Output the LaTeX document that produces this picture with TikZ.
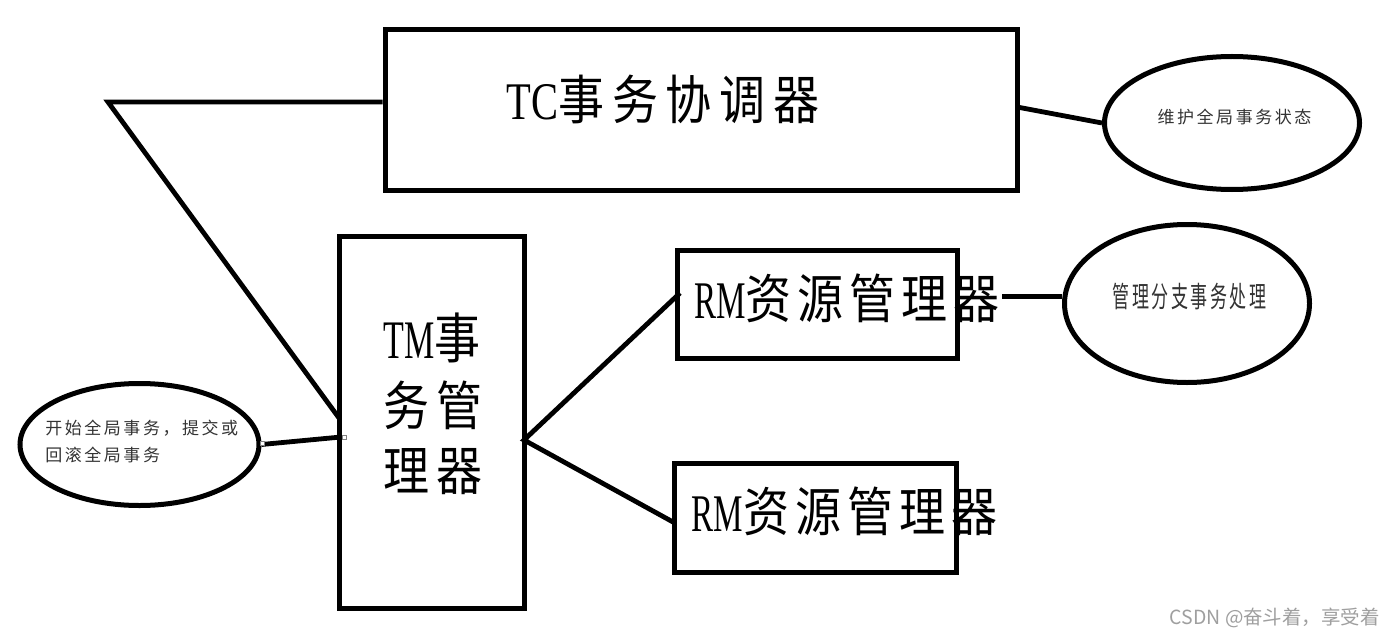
\documentclass[tikz,border=0pt]{standalone}
\usepackage{fontspec}
\usetikzlibrary{shapes.geometric}
\newfontfamily\cjk{Noto Sans CJK SC}
\newfontfamily\cjkbig[LetterSpace=17]{Noto Sans CJK SC}
\newfontfamily\cjkmid[LetterSpace=13]{Noto Sans CJK SC}
\newfontfamily\cjksmall[LetterSpace=15]{Noto Sans CJK SC}
\newfontfamily\lat{Liberation Serif}
\begin{document}
\begin{tikzpicture}[x=0.75pt,y=-0.75pt,
  box/.style={draw, line width=3.75pt, inner sep=0},
  ell/.style={draw, ellipse, line width=3.75pt, inner sep=0},
  con/.style={line width=3.6pt},
  big/.style={inner sep=0, font=\fontsize{34.5pt}{40pt}\selectfont},
  small/.style={inner sep=0, text=black!80, font=\fontsize{12.75pt}{20.25pt}\selectfont},
  handle/.style={draw=gray, fill=white, line width=0.5pt, minimum size=3pt, inner sep=0}]
\path[use as bounding box, fill=white] (0,0) rectangle (1394,638);

% boxes
\node[box, minimum width=474pt, minimum height=120pt] (tc) at (701,110) {};
\node[box, minimum width=138.75pt, minimum height=279pt] (tm) at (431.5,422) {};
\node[box, minimum width=210pt, minimum height=81pt] (rm1) at (817,304) {};
\node[box, minimum width=211.5pt, minimum height=81.75pt] (rm2) at (815,517.5) {};

% ellipses
\node[ell, minimum width=191.25pt, minimum height=99.75pt] (e1) at (1232,123) {};
\node[ell, minimum width=183.75pt, minimum height=118.5pt] (e2) at (1187,303.5) {};
\node[ell, minimum width=179.25pt, minimum height=91.5pt] (e3) at (139.5,444.5) {};

% box texts
\node[big] (tct) at (663,99) {\scalebox{1}[1.15]{\scalebox{0.88}[1]{\lat TC}\cjkbig 事务协调器}};
\node[big] (tm1) at (432,338) {\scalebox{1}[1.18]{\scalebox{0.74}[1]{\lat TM}\cjkbig 事}};
\node[big] (tm2) at (433,405) {\scalebox{1}[1.15]{\cjkbig 务管}};
\node[big] (tm3) at (433,472) {\scalebox{1}[1.15]{\cjkbig 理器}};
\node[big] (r1t) at (847,298) {\scalebox{1}[1.15]{\scalebox{0.72}[1]{\lat RM}\cjkmid 资源管理器}};
\node[big] (r2t) at (844.5,511) {\scalebox{1}[1.15]{\scalebox{0.72}[1]{\lat RM}\cjkmid 资源管理器}};

% ellipse texts
\node[small] (e1t) at (1234.5,117) {\cjksmall 维护全局事务状态};
\node[small] (e2t) at (1189.5,297) {\scalebox{1}[1.7]{\cjksmall 管理分支事务处理}};
\node[small, anchor=west, align=left] (e3t) at (45,441.5) {\cjksmall 开始全局事务，提交或\\\cjksmall 回滚全局事务};

% connector points
\coordinate (k) at (108,102);
\coordinate (ka) at (339,418);
\coordinate (p3) at (341,437);
\coordinate (j) at (524,440);
\coordinate (q1) at (680,293);
\coordinate (q2) at (673,522);
\coordinate (t1) at (1017,107);
\coordinate (r1) at (1002,296.5);

% connectors
\draw[con] (tc.west |- k) -- (k) -- (ka);
\draw[con] (e3.east) -- (p3);
\draw[con] (q1) -- (j) -- (q2);
\draw[con] (t1) -- (e1.west);
\draw[con] (r1) -- (e2.west |- r1);

% selection handles
\node[handle] (h1) at (262,443) {};
\node[handle] (h2) at (344,437) {};

% watermark
\node[anchor=east, inner sep=0, text=gray!75, font=\cjk\fontsize{14.6pt}{17pt}\selectfont] (wm) at (1380,618) {CSDN @奋斗着，享受着};
\end{tikzpicture}
\end{document}
